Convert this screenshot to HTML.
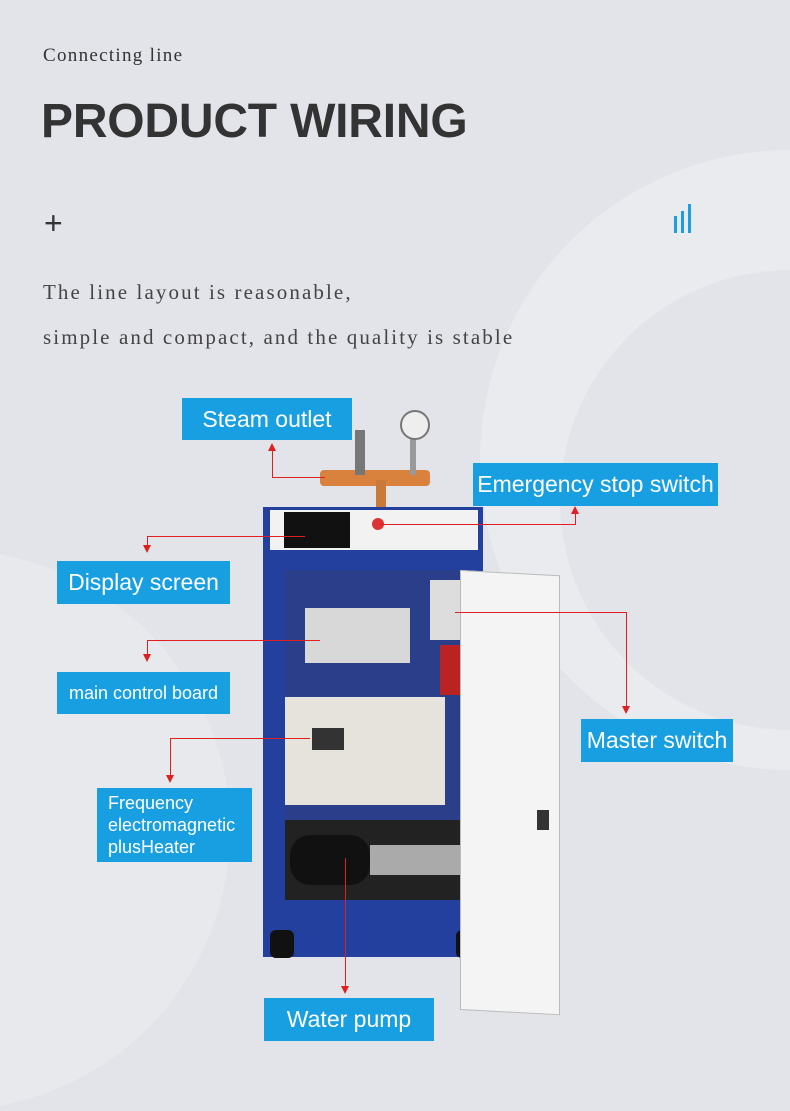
<!DOCTYPE html>
<html><head><meta charset="utf-8"><style>
body{margin:0;}
.pg{position:relative;width:790px;height:1111px;overflow:hidden;background:#e3e4e9;font-family:"Liberation Sans",sans-serif;}
.c{position:absolute;border-radius:50%;}
.t{position:absolute;white-space:nowrap;}
.b{position:absolute;background:#179fe2;color:#fff;font-size:23px;display:flex;align-items:center;justify-content:center;box-sizing:border-box;z-index:3;}
.r{position:absolute;background:#e02020;z-index:2;}
.ar{position:absolute;width:0;height:0;border-left:4px solid transparent;border-right:4px solid transparent;z-index:2;}
.d{position:absolute;}
</style></head><body><div class="pg">
<div class="c" style="left:480px;top:150px;width:620px;height:620px;background:#eaebef"></div>
<div class="c" style="left:560px;top:270px;width:460px;height:460px;background:#e3e4e9"></div>
<div class="c" style="left:-330px;top:550px;width:560px;height:560px;background:#e8e9ed"></div>
<div class="t" style="left:43px;top:45px;font-family:'Liberation Serif',serif;font-size:19px;color:#333;letter-spacing:1.3px">Connecting line</div>
<div class="t" style="left:41px;top:94px;font-size:48px;font-weight:bold;color:#333;letter-spacing:-0.2px">PRODUCT WIRING</div>
<div class="t" style="left:44px;top:205px;font-size:32px;color:#333">+</div>
<div class="d" style="left:674px;top:216px;width:3px;height:17px;background:#1a9fe2"></div>
<div class="d" style="left:681px;top:211px;width:3px;height:22px;background:#1a9fe2"></div>
<div class="d" style="left:688px;top:204px;width:3px;height:29px;background:#1a9fe2"></div>
<div class="t" style="left:43px;top:280px;font-family:'Liberation Serif',serif;font-size:21px;color:#444;letter-spacing:2.1px">The line layout is reasonable,</div>
<div class="t" style="left:43px;top:325px;font-family:'Liberation Serif',serif;font-size:21px;color:#444;letter-spacing:2.1px">simple and compact, and the quality is stable</div>

<!-- machine -->
<div class="d" style="left:320px;top:470px;width:110px;height:16px;background:#d9823e;border-radius:4px"></div>
<div class="d" style="left:376px;top:480px;width:10px;height:30px;background:#c97a3a"></div>
<div class="d" style="left:355px;top:430px;width:10px;height:45px;background:#777"></div>
<div class="d" style="left:410px;top:435px;width:6px;height:40px;background:#999"></div>
<div class="c" style="left:400px;top:410px;width:26px;height:26px;background:#eee;border:2px solid #777"></div>
<div class="d" style="left:263px;top:507px;width:220px;height:450px;background:#24409e"></div>
<div class="d" style="left:270px;top:510px;width:208px;height:40px;background:#f2f2f2"></div>
<div class="d" style="left:284px;top:512px;width:66px;height:36px;background:#111"></div>
<div class="c" style="left:372px;top:518px;width:12px;height:12px;background:#d33"></div>
<div class="d" style="left:285px;top:570px;width:175px;height:320px;background:#2a3e8a"></div>
<div class="d" style="left:305px;top:608px;width:105px;height:55px;background:#d8d8d8"></div>
<div class="d" style="left:430px;top:580px;width:30px;height:60px;background:#ddd"></div>
<div class="d" style="left:440px;top:645px;width:20px;height:50px;background:#b22"></div>
<div class="d" style="left:285px;top:697px;width:160px;height:108px;background:#e6e3dc"></div>
<div class="d" style="left:312px;top:728px;width:32px;height:22px;background:#333"></div>
<div class="d" style="left:285px;top:820px;width:175px;height:80px;background:#222"></div>
<div class="d" style="left:290px;top:835px;width:80px;height:50px;background:#111;border-radius:20px"></div>
<div class="d" style="left:370px;top:845px;width:90px;height:30px;background:#aaa"></div>
<div class="d" style="left:270px;top:930px;width:24px;height:28px;background:#111;border-radius:6px"></div>
<div class="d" style="left:456px;top:930px;width:28px;height:28px;background:#111;border-radius:6px"></div>
<div class="d" style="left:460px;top:570px;width:100px;height:440px;background:#f4f4f4;border:1px solid #bbb;box-sizing:border-box;transform:skewY(3deg);transform-origin:left top"></div>
<div class="d" style="left:537px;top:810px;width:12px;height:20px;background:#333"></div>

<!-- connectors -->
<div class="r" style="left:272px;top:477px;width:53px;height:1px"></div>
<div class="r" style="left:272px;top:450px;width:1px;height:28px"></div>
<div class="ar" style="left:268px;top:443px;border-bottom:8px solid #e02020"></div>
<div class="r" style="left:380px;top:524px;width:195px;height:1px"></div>
<div class="r" style="left:575px;top:512px;width:1px;height:13px"></div>
<div class="ar" style="left:571px;top:506px;border-bottom:8px solid #e02020"></div>
<div class="r" style="left:147px;top:536px;width:158px;height:1px"></div>
<div class="r" style="left:147px;top:536px;width:1px;height:10px"></div>
<div class="ar" style="left:143px;top:545px;border-top:8px solid #e02020"></div>
<div class="r" style="left:147px;top:640px;width:173px;height:1px"></div>
<div class="r" style="left:147px;top:640px;width:1px;height:15px"></div>
<div class="ar" style="left:143px;top:654px;border-top:8px solid #e02020"></div>
<div class="r" style="left:455px;top:612px;width:171px;height:1px"></div>
<div class="r" style="left:626px;top:612px;width:1px;height:96px"></div>
<div class="ar" style="left:622px;top:706px;border-top:8px solid #e02020"></div>
<div class="r" style="left:170px;top:738px;width:140px;height:1px"></div>
<div class="r" style="left:170px;top:738px;width:1px;height:38px"></div>
<div class="ar" style="left:166px;top:775px;border-top:8px solid #e02020"></div>
<div class="r" style="left:345px;top:858px;width:1px;height:130px"></div>
<div class="ar" style="left:341px;top:986px;border-top:8px solid #e02020"></div>

<!-- labels -->
<div class="b" style="left:182px;top:398px;width:170px;height:42px">Steam outlet</div>
<div class="b" style="left:473px;top:463px;width:245px;height:43px">Emergency stop switch</div>
<div class="b" style="left:57px;top:561px;width:173px;height:43px">Display screen</div>
<div class="b" style="left:57px;top:672px;width:173px;height:42px;font-size:18px">main control board</div>
<div class="b" style="left:581px;top:719px;width:152px;height:43px">Master switch</div>
<div class="b" style="left:97px;top:788px;width:155px;height:74px;font-size:18px;justify-content:flex-start;padding-left:11px;line-height:22px;text-align:left">Frequency<br>electromagnetic<br>plusHeater</div>
<div class="b" style="left:264px;top:998px;width:170px;height:43px">Water pump</div>
</div></body></html>
